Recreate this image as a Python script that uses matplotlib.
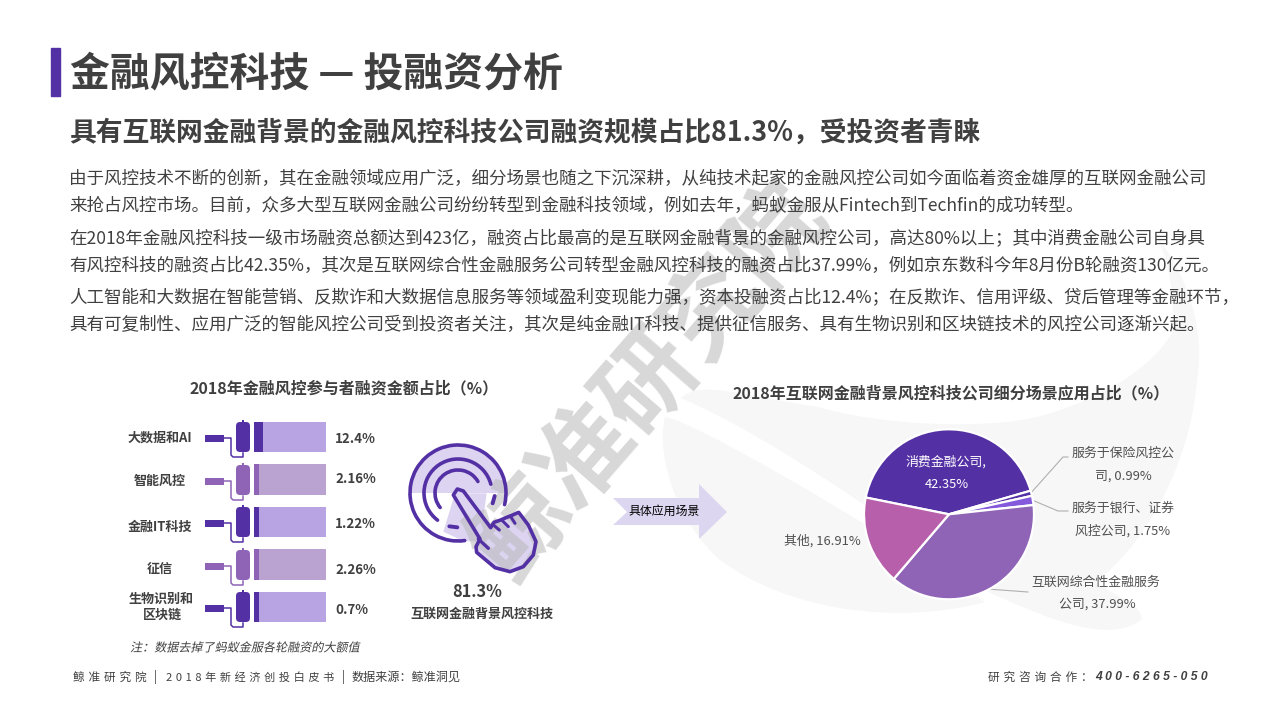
"""Financial risk-control funding slide: roller bars on the left, pie on the right."""

import matplotlib
matplotlib.use("Agg")
import matplotlib.pyplot as plt
from matplotlib.patches import FancyBboxPatch, PathPatch, Polygon, Rectangle, Wedge, Arc
from matplotlib.path import Path
from matplotlib.patheffects import AbstractPathEffect
from matplotlib.transforms import Affine2D

plt.rcParams["font.family"] = ["Noto Sans CJK SC", "DejaVu Sans"]

TITLE = "金融风控科技 — 投融资分析"
SUBTITLE = "具有互联网金融背景的金融风控科技公司融资规模占比81.3%，受投资者青睐"
BODY_LINES = [
    "由于风控技术不断的创新，其在金融领域应用广泛，细分场景也随之下沉深耕，从纯技术起家的金融风控公司如今面临着资金雄厚的互联网金融公司",
    "来抢占风控市场。目前，众多大型互联网金融公司纷纷转型到金融科技领域，例如去年，蚂蚁金服从Fintech到Techfin的成功转型。",
    "在2018年金融风控科技一级市场融资总额达到423亿，融资占比最高的是互联网金融背景的金融风控公司，高达80%以上；其中消费金融公司自身具",
    "有风控科技的融资占比42.35%，其次是互联网综合性金融服务公司转型金融风控科技的融资占比37.99%，例如京东数科今年8月份B轮融资130亿元。",
    "人工智能和大数据在智能营销、反欺诈和大数据信息服务等领域盈利变现能力强，资本投融资占比12.4%；在反欺诈、信用评级、贷后管理等金融环节，",
    "具有可复制性、应用广泛的智能风控公司受到投资者关注，其次是纯金融IT科技、提供征信服务、具有生物识别和区块链技术的风控公司逐渐兴起。",
]
BODY_Y = [179, 206, 239, 266, 298, 325]

BAR_CATEGORIES = ["大数据和AI", "智能风控", "金融IT科技", "征信", "生物识别和\n区块链"]
BAR_LABELS = ["12.4%", "2.16%", "1.22%", "2.26%", "0.7%"]
# dark part as drawn in the picture, % of the full bar
BAR_SHOWN = [12.4, 6.8, 6.8, 6.8, 6.8]
BAR_TOTAL = [100, 100, 100, 100, 100]

PIE_NAMES = ["消费金融公司", "服务于保险风控公司", "服务于银行、证券风控公司", "互联网综合性金融服务公司", "其他"]
PIE_VALUES = [42.35, 0.99, 1.75, 37.99, 16.91]
PIE_COLORS = ["#5430a5", "#5430a5", "#8459dc", "#8f64b7", "#b75faa"]

DARK = "#5430a5"
MID = "#8f64b7"
TEXT = "#404040"
ROW_Y = [437, 480, 522, 565, 607]
LABEL_Y = [439, 479, 524, 570, 610]
NAME_Y = [438, 481, 527, 569, 607]
GAP = "\u2004"  # letter spacing of the footer


class Slant(AbstractPathEffect):
    # the CJK fonts have no italic cut, so shear the glyphs instead
    def draw_path(self, renderer, gc, tpath, affine, rgbFace=None):
        renderer.draw_path(gc, tpath, Affine2D().skew_deg(12, 0) + affine, rgbFace)


def spaced(s):
    return GAP.join(s)


def main():
    fig = plt.figure(figsize=(12.8, 7.2), dpi=100)
    ax = fig.add_axes([0, 0, 1, 1], zorder=0)
    ax.set_xlim(0, 1280)
    ax.set_ylim(720, 0)
    ax.axis("off")

    draw_swooshes(ax)
    draw_icon(ax)
    # watermark sits over the icon fills, under the strokes and the text
    ax.text(650, 383, "鲸准研究院", fontsize=70, fontweight="bold", color="#b8b8b8", alpha=0.55,
            rotation=49, rotation_mode="anchor", ha="center", va="center", zorder=2.3)

    ax.add_patch(Rectangle((51, 48), 9, 48, color=DARK, zorder=5))
    ax.text(70, 74, TITLE, fontsize=28.7, fontweight="bold", color=TEXT, va="center", zorder=6)
    ax.text(69, 133, SUBTITLE, fontsize=19.3, fontweight="bold", color=TEXT, va="center", zorder=6)
    for line, y in zip(BODY_LINES, BODY_Y):
        ax.text(69, y, line, fontsize=12.63, color=TEXT, va="center", zorder=6)

    ax.text(344, 388, "2018年金融风控参与者融资金额占比（%）", fontsize=11.5, fontweight="bold",
            color=TEXT, ha="center", va="center", zorder=6)
    ax.text(951, 393, "2018年互联网金融背景风控科技公司细分场景应用占比（%）", fontsize=11.5, fontweight="bold",
            color=TEXT, ha="center", va="center", zorder=6)

    draw_rollers(ax)
    draw_bars(fig)
    draw_pie(fig, ax)

    ax.text(477, 592, "81.3%", fontsize=11.8, fontweight="bold", color=TEXT, ha="center", va="center", zorder=6)
    ax.text(482, 614, "互联网金融背景风控科技", fontsize=9.4, fontweight="bold", color=TEXT,
            ha="center", va="center", zorder=6)
    ax.text(130, 648, "注：数据去掉了蚂蚁金服各轮融资的大额值", fontsize=8.7, color=TEXT,
            va="center", zorder=6, path_effects=[Slant()])

    ax.add_patch(Polygon([(613, 498), (699, 498), (699, 484), (727, 512), (699, 539), (699, 525),
                          (613, 525), (627, 512)], closed=True, color="#dcd6f0", lw=0, zorder=2))
    ax.text(664, 511, "具体应用场景", fontsize=8.6, color="black", ha="center", va="center", zorder=6)

    ax.text(73, 677, spaced("鲸准研究院"), fontsize=8.4, color=TEXT, va="center", zorder=6)
    ax.text(155, 677, "|", fontsize=8.4, color=TEXT, ha="center", va="center", zorder=6)
    ax.text(166, 677, spaced("2018年新经济创投白皮书"), fontsize=8.0, color=TEXT, va="center", zorder=6)
    ax.text(343, 677, "|", fontsize=8.4, color=TEXT, ha="center", va="center", zorder=6)
    ax.text(352, 677, "数据来源：鲸准洞见", fontsize=8.7, color=TEXT, va="center", zorder=6)
    ax.text(988, 677, spaced("研究咨询合作："), fontsize=8.4, color=TEXT, va="center", zorder=6)
    ax.text(1095, 677, "4 0 0 - 6 2 6 5 - 0 5 0", fontsize=8.7, fontweight="bold", style="italic",
            family="Liberation Sans", color=TEXT, va="center", zorder=6)

    fig.savefig("out.png", dpi=100)
    plt.close(fig)


def draw_swooshes(ax):
    gray = "#f7f7f7"
    c = Path.CURVE4
    upper = [((681, 398), Path.MOVETO),
             ((700, 380), c), ((740, 395), c), ((818, 407), c),
             ((880, 425), c), ((980, 430), c), ((1037, 417), c),
             ((1100, 400), c), ((1150, 370), c), ((1172, 333), c),
             ((1175, 300), c), ((1170, 260), c), ((1155, 233), c),
             ((1190, 280), c), ((1205, 330), c), ((1197, 380), c),
             ((1190, 470), c), ((1140, 550), c), ((1095, 582), c),
             ((1120, 598), c), ((1145, 608), c), ((1141, 620), c),
             ((1110, 642), c), ((1060, 625), c), ((984, 590), c),
             ((930, 550), c), ((780, 440), c), ((681, 398), c)]
    lower = [((665, 417), Path.MOVETO),
             ((690, 420), c), ((850, 510), c), ((985, 602), c),
             ((900, 625), c), ((790, 612), c), ((720, 560), c),
             ((680, 525), c), ((655, 460), c), ((665, 417), c)]
    for shape in (upper, lower):
        verts, codes = zip(*shape)
        ax.add_patch(PathPatch(Path(verts, codes), facecolor=gray, edgecolor="none", zorder=1))


def draw_icon(ax):
    cx, cy = 458, 493
    crop = lambda pts: [(400 + x / 3, 435 + y / 3) for x, y in pts]
    light = "#dcd4f0"
    ax.add_patch(Wedge((cx, cy), 48, 180, 360, color=light, lw=0, zorder=2))
    ax.add_patch(Polygon(crop([(130, 290), (165, 175), (260, 175), (240, 320), (190, 318)]),
                         closed=True, color=light, lw=0, zorder=2))
    # y axis is inverted, so arc angles run clockwise on screen
    for r, a0, a1 in [(48, 82, 374), (34, 127, 345), (23, 141, 330)]:
        ax.add_patch(Arc((cx, cy), 2 * r, 2 * r, theta1=a0, theta2=a1, color=DARK, lw=2.6,
                         capstyle="round", zorder=2.5))
    ax.plot(*zip(*crop([(148, 274), (172, 277)])), color=DARK, lw=2.8, solid_capstyle="round", zorder=2.5)
    ax.plot(*zip(*crop([(284, 183), (278, 205)])), color=DARK, lw=2.8, solid_capstyle="round", zorder=2.5)
    hand = crop([(160, 180), (172, 162), (190, 168), (272, 278), (282, 262), (302, 255), (318, 248),
                 (338, 240), (356, 232), (385, 270), (408, 320), (400, 360), (370, 395), (330, 410),
                 (285, 398), (230, 352), (228, 335), (240, 312)])
    ax.add_patch(Polygon(hand, closed=True, facecolor=light, edgecolor="none", zorder=2.1))
    ax.add_patch(Polygon(hand, closed=True, facecolor="none", edgecolor=DARK, lw=2.6, joinstyle="round", zorder=2.6))
    ax.plot(*zip(*crop([(235, 312), (265, 340)])), color=DARK, lw=2.4, solid_capstyle="round", zorder=2.7)
    for seg in ([(278, 268), (298, 285)], [(305, 255), (325, 275)], [(332, 245), (345, 265)]):
        ax.plot(*zip(*crop(seg)), color=DARK, lw=2.2, solid_capstyle="round", zorder=2.7)


def draw_rollers(ax):
    for i, y in enumerate(ROW_Y):
        color = DARK if i % 2 == 0 else MID
        ax.add_patch(Rectangle((205, y - 2), 19, 7, color=color, lw=0, zorder=4))
        ax.add_patch(FancyBboxPatch((238, y - 13), 10, 26, boxstyle="round,pad=2,rounding_size=4",
                                    facecolor=color, edgecolor="none", zorder=4))
        ax.add_patch(Rectangle((242, y - 17), 2, 3, color=color, lw=0, zorder=4))
        ax.plot([224, 231, 231, 233, 243, 243], [y + 1, y + 1, y + 18, y + 20, y + 20, y + 16],
                color=color, lw=1.1, zorder=4)
        name = BAR_CATEGORIES[i]
        if "\n" in name:
            first, second = name.split("\n")
            ax.text(161, NAME_Y[i] - 8, first, fontsize=9.4, fontweight="bold", color=TEXT, ha="center", va="center", zorder=6)
            ax.text(162, NAME_Y[i] + 8, second, fontsize=9.4, fontweight="bold", color=TEXT, ha="center", va="center", zorder=6)
        else:
            ax.text(160, NAME_Y[i], name, fontsize=9.4, fontweight="bold", color=TEXT, ha="center", va="center", zorder=6)
        ax.text(335, LABEL_Y[i], BAR_LABELS[i], fontsize=9.6, fontweight="bold", color=TEXT, va="center", zorder=6)


def draw_bars(fig):
    top, row_h = 415.75, 42.5
    bx = fig.add_axes([254 / 1280, 1 - (top + 5 * row_h) / 720, 72 / 1280, 5 * row_h / 720], zorder=2)
    bx.patch.set_alpha(0)
    ypos = list(range(len(BAR_SHOWN)))
    rest = [t - s for t, s in zip(BAR_TOTAL, BAR_SHOWN)]
    front = [DARK if i % 2 == 0 else MID for i in ypos]
    back = ["#b8a4e3" if i % 2 == 0 else "#baa2d1" for i in ypos]
    bx.barh(ypos, BAR_SHOWN, 0.706, color=front, linewidth=0)
    bx.barh(ypos, rest, 0.706, left=BAR_SHOWN, color=back, linewidth=0)
    bx.set_xlim(0, 100)
    bx.set_ylim(4.5, -0.5)
    bx.axis("off")


def draw_pie(fig, ax):
    cx, cy, r = 949, 514.3, 85
    px = fig.add_axes([(cx - r) / 1280, 1 - (cy + r) / 720, 2 * r / 1280, 2 * r / 720], zorder=2)
    px.patch.set_alpha(0)
    px.pie(PIE_VALUES, colors=PIE_COLORS, startangle=168.6, counterclock=False, radius=1,
           wedgeprops={"edgecolor": "white", "linewidth": 1.6})
    px.set_xlim(-1, 1)
    px.set_ylim(-1, 1)

    def label(x, y, s, color="#505050"):
        ax.text(x, y, s, fontsize=9.3, color=color, ha="center", va="center", zorder=6)

    # the two inside labels have to be on top of the pie axes
    px.text(946, 462, f"{PIE_NAMES[0]},", transform=ax.transData, fontsize=9.3, color="white", ha="center", va="center")
    px.text(947, 485, f"{PIE_VALUES[0]}%", transform=ax.transData, fontsize=9.3, color="white", ha="center", va="center")
    label(1123, 453, "服务于保险风控公")
    label(1123, 476, f"司, {PIE_VALUES[1]}%")
    label(1123, 508, "服务于银行、证券")
    label(1123, 531, f"风控公司, {PIE_VALUES[2]}%")
    label(1096, 582, "互联网综合性金融服务")
    label(1097, 604, f"公司, {PIE_VALUES[3]}%")
    label(822, 541, f"{PIE_NAMES[4]}, {PIE_VALUES[4]}%")
    for xs, ys in [([1030, 1063, 1068], [494, 457, 457]),
                   ([1032, 1058, 1068], [500, 511, 511]),
                   ([987, 1028], [589, 592])]:
        ax.plot(xs, ys, color="#b0b0b0", lw=0.8, zorder=4)


if __name__ == "__main__":
    main()
